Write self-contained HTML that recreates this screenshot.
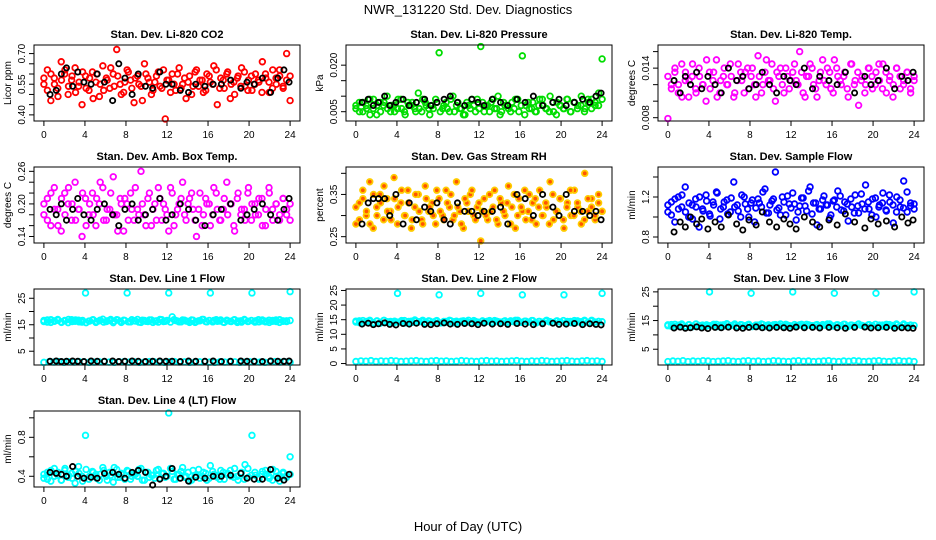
<!DOCTYPE html>
<html><head><meta charset="utf-8"><style>
html,body{margin:0;padding:0;background:#fff}
svg{display:block;font-family:"Liberation Sans",sans-serif}
</style></head><body>
<svg id="chart" width="936" height="540" viewBox="0 0 936 540">
<rect width="936" height="540" fill="#fff"/>
<text x="468" y="14" text-anchor="middle" font-size="13">NWR_131220  Std. Dev. Diagnostics</text>
<text x="468" y="531" text-anchor="middle" font-size="13">Hour of Day (UTC)</text>
</svg>
<script>
const xTicks = [0,4,8,12,16,20,24];
const blackHours = [0.6,1.2,1.7,2.2,2.8,3.3,3.9,4.6,5.2,5.9,6.7,7.3,7.9,8.6,9.2,9.9,10.6,11.3,11.9,12.5,13.3,14.1,14.8,15.7,16.5,17.3,18.2,19.2,19.8,20.5,21.3,22.1,22.8,23.4,23.9];

const co2Main = [0.55,0.62,0.47,0.58,0.53,0.66,0.60,0.50,0.57,0.63,0.54,0.45,0.59,0.52,0.61,0.56,0.49,0.64,0.58,0.53,0.60,0.72,0.55,0.51,0.62,0.57,0.46,0.59,0.54,0.65,0.58,0.50,0.56,0.61,0.53,0.38,0.57,0.60,0.52,0.63,0.55,0.48,0.59,0.54,0.62,0.57,0.51,0.60,0.56,0.64,0.45,0.58,0.53,0.61,0.55,0.50,0.59,0.63,0.54,0.57,0.52,0.60,0.56,0.66,0.58,0.51,0.62,0.55,0.59,0.53,0.70,0.47];
const co2Extra = [0.58,0.52,0.60,0.55,0.49,0.57,0.62,0.54,0.59,0.51,0.56,0.61,0.53,0.58,0.48,0.60,0.55,0.52,0.57,0.63,0.54,0.59,0.50,0.56,0.61,0.53,0.58,0.55,0.47,0.60,0.56,0.52,0.59,0.54,0.62,0.57,0.51,0.55,0.60,0.53,0.58,0.56,0.50,0.61,0.54,0.57,0.52,0.59,0.55,0.62,0.53,0.57,0.60,0.48,0.56,0.58,0.54,0.61,0.52,0.59,0.55,0.57,0.51,0.60,0.56,0.53,0.58,0.62,0.54,0.57,0.59];
const co2Black = [0.50,0.52,0.60,0.63,0.54,0.61,0.56,0.55,0.60,0.56,0.47,0.65,0.58,0.50,0.60,0.54,0.53,0.61,0.55,0.55,0.52,0.51,0.55,0.54,0.55,0.55,0.57,0.53,0.56,0.55,0.58,0.51,0.58,0.62,0.56];
const presMain = [.006,.008,.005,.007,.009,.006,.004,.008,.007,.010,.005,.007,.006,.009,.005,.008,.007,.006,.011,.005,.008,.006,.007,.009,.024,.006,.008,.005,.010,.007,.006,.004,.008,.006,.007,.009,.026,.005,.007,.008,.006,.010,.005,.007,.006,.008,.009,.005,.023,.007,.006,.008,.005,.009,.007,.006,.010,.005,.008,.007,.006,.009,.005,.008,.007,.010,.006,.008,.009,.007,.011,.022];
const presExtra = [.007,.005,.008,.006,.004,.009,.007,.005,.008,.006,.007,.005,.009,.006,.004,.007,.008,.005,.006,.009,.007,.004,.006,.008,.005,.007,.006,.009,.005,.008,.006,.004,.007,.009,.005,.006,.008,.007,.005,.009,.006,.004,.008,.007,.005,.006,.009,.007,.004,.008,.006,.005,.007,.009,.006,.005,.008,.004,.007,.006,.009,.005,.008,.006,.007,.005,.009,.006,.008,.007,.009];
const presBlack = [.008,.009,.007,.008,.010,.007,.008,.009,.007,.008,.009,.007,.008,.009,.010,.008,.007,.009,.008,.007,.009,.008,.007,.009,.008,.010,.007,.008,.009,.007,.008,.009,.008,.010,.011];
const tempMain = [.0079,.012,.0135,.011,.0145,.0125,.0105,.013,.0115,.014,.012,.0100,.0135,.0125,.015,.011,.013,.012,.0145,.0105,.0125,.0135,.011,.014,.0130,.012,.0155,.011,.0135,.0125,.0145,.010,.013,.012,.014,.0115,.0135,.0125,.016,.011,.013,.0145,.012,.0105,.0135,.0125,.014,.0115,.0150,.013,.012,.0135,.0105,.0145,.0125,.0095,.013,.012,.014,.0115,.0135,.0125,.0145,.011,.013,.012,.0140,.0115,.0125,.0135,.011,.013];
const tempExtra = [.0130,.0115,.0140,.0120,.0105,.0135,.0125,.0145,.0110,.0130,.0120,.0150,.0115,.0135,.0105,.0125,.0140,.0120,.0130,.0110,.0145,.0125,.0135,.0115,.0140,.0105,.0130,.0120,.0150,.0125,.0115,.0135,.0140,.0110,.0130,.0125,.0145,.0120,.0135,.0105,.0130,.0140,.0115,.0125,.0150,.0120,.0135,.0110,.0140,.0125,.0130,.0115,.0145,.0120,.0135,.0125,.0110,.0140,.0130,.0120,.0145,.0115,.0135,.0125,.0105,.0140,.0130,.0120,.0135,.0115,.0125];
const tempBlack = [.0125,.011,.013,.012,.0135,.0115,.013,.012,.011,.014,.0125,.013,.0115,.012,.0135,.012,.011,.013,.0125,.012,.014,.0115,.013,.0125,.012,.0135,.011,.013,.012,.0125,.014,.0115,.013,.0125,.0135];
const boxMain = [.18,.21,.16,.23,.19,.15,.22,.20,.17,.24,.19,.14,.21,.18,.22,.16,.20,.23,.17,.19,.25,.18,.21,.15,.20,.22,.17,.19,.26,.18,.21,.16,.20,.23,.17,.19,.15,.22,.18,.20,.24,.17,.21,.19,.14,.22,.18,.20,.16,.23,.19,.17,.21,.18,.20,.15,.22,.19,.17,.23,.20,.18,.21,.16,.19,.22,.17,.20,.18,.21,.19,.17];
const boxExtra = [.20,.17,.22,.19,.16,.21,.18,.23,.20,.17,.19,.22,.16,.20,.18,.21,.24,.17,.19,.22,.18,.15,.20,.21,.17,.19,.23,.18,.20,.16,.22,.19,.17,.21,.20,.18,.23,.16,.19,.21,.18,.20,.22,.17,.19,.16,.21,.20,.18,.22,.17,.19,.24,.20,.16,.21,.18,.19,.22,.17,.20,.18,.21,.16,.23,.19,.20,.17,.21,.18,.20];
const boxBlack = [.19,.18,.20,.17,.19,.21,.18,.17,.19,.20,.18,.16,.19,.20,.17,.18,.19,.21,.17,.18,.20,.19,.17,.16,.18,.19,.20,.17,.18,.19,.20,.18,.17,.19,.21];
const rhMain = [.28,.33,.36,.30,.38,.27,.32,.35,.29,.34,.31,.39,.28,.33,.30,.36,.27,.32,.35,.29,.37,.31,.33,.28,.34,.30,.36,.32,.29,.38,.31,.27,.33,.35,.30,.32,.24,.34,.29,.31,.36,.28,.33,.30,.37,.32,.27,.34,.31,.29,.35,.33,.28,.36,.30,.32,.38,.29,.31,.34,.27,.33,.30,.36,.32,.28,.40,.31,.34,.29,.33,.31];
const rhExtra = [.32,.29,.34,.31,.28,.35,.30,.33,.37,.31,.29,.34,.32,.36,.30,.33,.29,.35,.31,.28,.34,.32,.30,.36,.31,.29,.33,.35,.30,.32,.28,.34,.31,.36,.29,.33,.31,.30,.35,.32,.29,.34,.31,.33,.28,.35,.30,.32,.36,.31,.29,.34,.32,.30,.33,.28,.35,.31,.34,.29,.32,.36,.30,.33,.31,.29,.34,.32,.30,.35,.31];
const rhBlack = [.28,.33,.34,.34,.34,.30,.35,.28,.33,.29,.32,.31,.33,.29,.28,.33,.31,.31,.30,.31,.31,.32,.28,.35,.34,.30,.35,.32,.30,.35,.31,.31,.30,.31,.29];
const flowMain = [1.05,1.15,0.95,1.20,1.10,1.30,1.00,1.12,1.18,0.90,1.08,1.22,1.03,1.15,1.25,0.98,1.10,1.17,1.05,1.35,1.12,1.00,1.20,1.08,1.14,0.95,1.18,1.10,1.28,1.04,1.16,1.45,1.09,1.20,1.02,1.13,1.24,0.97,1.11,1.19,1.06,1.30,1.14,0.92,1.08,1.21,1.12,1.02,1.17,1.26,1.07,1.15,0.96,1.10,1.22,1.04,1.13,1.32,1.08,1.18,1.00,1.12,1.24,1.06,1.15,0.94,1.20,1.10,1.36,1.05,1.14,1.08];
const flowExtra = [1.12,1.02,1.18,1.08,1.22,1.05,1.14,0.98,1.10,1.20,1.06,1.16,1.01,1.12,1.24,1.08,1.15,1.03,1.19,1.10,1.06,1.22,1.13,1.00,1.17,1.09,1.14,1.25,1.04,1.12,1.18,1.07,1.02,1.15,1.21,1.09,1.13,1.05,1.19,1.11,1.26,1.03,1.14,1.08,1.17,1.12,0.99,1.16,1.10,1.21,1.06,1.13,1.18,1.04,1.11,1.23,1.08,1.15,1.02,1.19,1.10,1.14,1.07,1.22,1.12,1.05,1.17,1.09,1.25,1.11,1.13];
const flowBlack = [0.85,0.95,0.90,1.00,0.93,0.98,0.88,0.95,0.90,1.02,0.93,0.87,0.97,0.92,1.05,0.95,0.90,0.98,0.93,0.88,1.00,0.95,0.90,0.97,0.92,1.03,0.95,0.89,0.98,0.93,0.96,0.90,1.00,0.94,0.97];
const l1Main = [16.2,16.8,15.9,16.5,17.0,16.1,16.6,15.8,16.9,16.3,16.7,16.0,27,16.4,16.8,15.9,16.5,17.1,16.2,16.6,15.8,16.9,16.3,16.7,27,16.1,16.5,17.0,15.9,16.6,16.2,16.8,16.4,16.0,16.9,16.3,27,18,16.6,16.1,16.8,16.4,15.9,16.7,16.2,16.5,17.0,16.1,27,16.6,16.3,16.8,15.9,16.5,16.2,16.9,16.4,16.0,16.7,16.3,27,16.5,16.1,16.8,16.4,15.9,16.6,16.2,16.9,16.3,16.5,27.5];
const l1Extra = [16.6,16.0,16.9,16.3,16.7,15.9,16.5,17.0,16.2,16.8,16.1,16.6,15.8,16.4,16.9,16.2,16.7,16.0,16.5,17.0,16.3,16.8,15.9,16.6,16.1,16.9,16.4,16.0,16.7,16.3,16.8,15.9,16.5,17.0,16.2,16.6,16.0,16.9,16.4,16.1,16.7,16.3,16.8,15.9,16.5,17.0,16.2,16.6,16.1,16.9,16.4,16.0,16.7,16.3,16.8,15.9,16.5,17.0,16.2,16.6,16.0,16.9,16.4,16.1,16.7,16.3,16.8,15.9,16.5,16.2,16.6];
const l1Low = [0.8,1.0,0.9,1.1,0.8,1.0,0.9,1.1,1.0,0.8,0.9,1.0,1.1,0.9,0.8,1.0,1.1,0.9,1.0,0.8,0.9,1.1,1.0,0.9,0.8,1.0,1.1,0.9,1.0,0.8,0.9,1.0,1.1,0.9,0.8,1.0,0.9,1.1,1.0,0.8,0.9,1.0,1.1,0.9,0.8,1.0,1.1,0.9,1.0,0.8];
const l1Black = [1.2,1.3,1.1,1.2,1.3,1.2,1.1,1.3,1.2,1.2,1.3,1.1,1.2,1.3,1.2,1.1,1.2,1.3,1.2,1.2,1.1,1.3,1.2,1.2,1.3,1.1,1.2,1.3,1.2,1.2,1.1,1.3,1.2,1.2,1.3];
const l2Main = [14.2,14.6,13.9,14.4,14.8,14.0,14.5,13.8,14.7,14.1,14.4,14.0,24,14.3,14.7,13.9,14.5,14.9,14.2,14.4,13.8,14.6,14.1,14.5,23.5,14.0,14.4,14.8,13.9,14.5,14.2,14.6,14.3,14.0,14.7,14.2,24,14.1,14.5,14.0,14.7,14.3,13.9,14.6,14.2,14.4,14.8,14.1,23.5,14.5,14.2,14.7,13.9,14.4,14.1,14.8,14.3,14.0,14.6,14.2,23.5,14.4,14.0,14.7,14.3,13.9,14.5,14.1,14.8,14.2,14.4,24];
const l2Extra = [14.5,14.0,14.7,14.2,14.4,13.9,14.6,14.1,14.8,14.3,14.0,14.5,14.2,14.7,13.9,14.4,14.1,14.6,14.3,14.8,14.0,14.5,14.2,14.7,13.9,14.4,14.1,14.6,14.3,14.0,14.5,14.2,14.8,14.0,14.4,14.1,14.6,14.3,14.7,13.9,14.5,14.2,14.4,14.0,14.6,14.3,14.8,14.1,14.5,14.2,14.7,13.9,14.4,14.1,14.6,14.3,14.0,14.5,14.2,14.7,14.0,14.4,14.1,14.6,14.3,14.8,14.0,14.5,14.2,14.4,14.3];
const l2Low = [0.7,0.9,0.8,1.0,0.7,0.9,0.8,1.0,0.9,0.7,0.8,0.9,1.0,0.8,0.7,0.9,1.0,0.8,0.9,0.7,0.8,1.0,0.9,0.8,0.7,0.9,1.0,0.8,0.9,0.7,0.8,0.9,1.0,0.8,0.7,0.9,0.8,1.0,0.9,0.7,0.8,0.9,1.0,0.8,0.7,0.9,1.0,0.8,0.9,0.7];
const l2Black = [13.5,13.8,13.3,13.6,13.9,13.4,13.2,13.7,13.5,13.8,13.4,13.3,13.6,13.9,13.5,13.4,13.7,13.6,13.3,13.8,13.5,13.6,13.4,13.7,13.5,13.3,13.6,13.8,13.4,13.5,13.7,13.3,13.6,13.4,13.2];
const l3Main = [13.2,13.6,12.9,13.4,13.8,13.0,13.5,12.8,13.7,13.1,13.4,13.0,25,13.3,13.7,12.9,13.5,13.9,13.2,13.4,12.8,13.6,13.1,13.5,24.5,13.0,13.4,13.8,12.9,13.5,13.2,13.6,13.3,13.0,13.7,13.2,25,13.1,13.5,13.0,13.7,13.3,12.9,13.6,13.2,13.4,13.8,13.1,24.5,13.5,13.2,13.7,12.9,13.4,13.1,13.8,13.3,13.0,13.6,13.2,24.5,13.4,13.0,13.7,13.3,12.9,13.5,13.1,13.8,13.2,13.4,25];
const l3Extra = [13.5,13.0,13.7,13.2,13.4,12.9,13.6,13.1,13.8,13.3,13.0,13.5,13.2,13.7,12.9,13.4,13.1,13.6,13.3,13.8,13.0,13.5,13.2,13.7,12.9,13.4,13.1,13.6,13.3,13.0,13.5,13.2,13.8,13.0,13.4,13.1,13.6,13.3,13.7,12.9,13.5,13.2,13.4,13.0,13.6,13.3,13.8,13.1,13.5,13.2,13.7,12.9,13.4,13.1,13.6,13.3,13.0,13.5,13.2,13.7,13.0,13.4,13.1,13.6,13.3,13.8,13.0,13.5,13.2,13.4,13.3];
const l3Low = [0.7,0.9,0.8,1.0,0.7,0.9,0.8,1.0,0.9,0.7,0.8,0.9,1.0,0.8,0.7,0.9,1.0,0.8,0.9,0.7,0.8,1.0,0.9,0.8,0.7,0.9,1.0,0.8,0.9,0.7,0.8,0.9,1.0,0.8,0.7,0.9,0.8,1.0,0.9,0.7,0.8,0.9,1.0,0.8,0.7,0.9,1.0,0.8,0.9,0.7];
const l3Black = [12.4,12.7,12.3,12.5,12.8,12.4,12.2,12.6,12.5,12.7,12.4,12.3,12.6,12.8,12.5,12.4,12.6,12.5,12.3,12.7,12.5,12.6,12.4,12.6,12.5,12.3,12.6,12.7,12.4,12.5,12.6,12.3,12.5,12.4,12.3];
const l4Main = [0.38,0.44,0.35,0.48,0.41,0.36,0.46,0.39,0.43,0.33,0.50,0.40,0.82,0.37,0.45,0.42,0.36,0.49,0.40,0.44,0.34,0.47,0.39,0.42,0.46,0.37,0.43,0.40,0.48,0.36,0.44,0.41,0.38,0.47,0.43,0.39,1.05,0.45,0.37,0.42,0.49,0.40,0.35,0.46,0.41,0.38,0.44,0.36,0.51,0.42,0.39,0.46,0.37,0.43,0.40,0.48,0.36,0.44,0.52,0.39,0.82,0.41,0.37,0.45,0.42,0.38,0.47,0.40,0.35,0.44,0.41,0.60];
const l4Extra = [0.42,0.37,0.46,0.40,0.44,0.36,0.48,0.41,0.38,0.45,0.43,0.35,0.47,0.40,0.44,0.38,0.42,0.46,0.36,0.41,0.49,0.39,0.43,0.37,0.45,0.40,0.42,0.47,0.36,0.44,0.39,0.41,0.46,0.38,0.43,0.40,0.48,0.37,0.42,0.45,0.39,0.44,0.36,0.41,0.47,0.40,0.43,0.38,0.45,0.41,0.37,0.44,0.42,0.46,0.39,0.40,0.43,0.37,0.48,0.41,0.44,0.38,0.42,0.46,0.40,0.36,0.45,0.41,0.43,0.39,0.42];
const l4Black = [0.44,0.43,0.42,0.40,0.50,0.40,0.38,0.39,0.38,0.43,0.44,0.42,0.38,0.44,0.46,0.44,0.31,0.37,0.40,0.48,0.38,0.35,0.39,0.38,0.40,0.40,0.41,0.43,0.38,0.37,0.37,0.47,0.38,0.36,0.42];

const NS = "http://www.w3.org/2000/svg";
const svg = document.getElementById('chart');
function mk(tag, attrs, parent){ const e=document.createElementNS(NS,tag); for(const k in attrs) e.setAttribute(k,attrs[k]); (parent||svg).appendChild(e); return e; }

const colLeft = [34, 346, 658];
const rowTop = [45, 167, 289, 411];
const W = 266, H = 76;

const panels = [
 {title:"Stan. Dev. Li-820 CO2", ylab:"Licor ppm", r:0,c:0, ymin:0.37, ymax:0.742, ticks:[0.40,0.45,0.50,0.55,0.60,0.65,0.70], labels:["0.40","","","0.55","","","0.70"], series:[[co2Main,"#ff0000",null],[co2Extra,"#ff0000",null]], black:co2Black},
 {title:"Stan. Dev. Li-820 Pressure", ylab:"kPa", r:0,c:1, ymin:0.002, ymax:0.0265, ticks:[0.005,0.010,0.015,0.020], labels:["0.005","","","0.020"], series:[[presMain,"#00dd00",null],[presExtra,"#00dd00",null]], black:presBlack},
 {title:"Stan. Dev. Li-820 Temp.", ylab:"degrees C", r:0,c:2, ymin:0.0076, ymax:0.0168, ticks:[0.008,0.010,0.012,0.014,0.016], labels:["0.008","","","0.014",""], series:[[tempMain,"#ff00ff",null],[tempExtra,"#ff00ff",null]], black:tempBlack},
 {title:"Stan. Dev. Amb. Box Temp.", ylab:"degrees C", r:1,c:0, ymin:0.128, ymax:0.268, ticks:[0.14,0.16,0.18,0.20,0.22,0.24,0.26], labels:["0.14","","","0.20","","","0.26"], series:[[boxMain,"#ff00ff",null],[boxExtra,"#ff00ff",null]], black:boxBlack},
 {title:"Stan. Dev. Gas Stream RH", ylab:"percent", r:1,c:1, ymin:0.235, ymax:0.415, ticks:[0.25,0.30,0.35,0.40], labels:["0.25","","0.35",""], series:[[rhMain,"#ffcc00","#ff5500"],[rhExtra,"#ffcc00","#ff5500"]], black:rhBlack},
 {title:"Stan. Dev. Sample Flow", ylab:"ml/min", r:1,c:2, ymin:0.74, ymax:1.50, ticks:[0.8,1.0,1.2,1.4], labels:["0.8","","1.2",""], series:[[flowMain,"#0000ff",null],[flowExtra,"#0000ff",null]], black:flowBlack},
 {title:"Stan. Dev. Line 1 Flow", ylab:"ml/min", r:2,c:0, ymin:-0.2, ymax:28.5, ticks:[5,10,15,20,25], labels:["5","","15","","25"], series:[[l1Main,"#00ffff",null],[l1Extra,"#00ffff",null],[l1Low,"#00ffff",null]], black:l1Black},
 {title:"Stan. Dev. Line 2 Flow", ylab:"ml/min", r:2,c:1, ymin:-0.5, ymax:25.5, ticks:[0,5,10,15,20,25], labels:["0","5","10","15","20","25"], series:[[l2Main,"#00ffff",null],[l2Extra,"#00ffff",null],[l2Low,"#00ffff",null]], black:l2Black},
 {title:"Stan. Dev. Line 3 Flow", ylab:"ml/min", r:2,c:2, ymin:-0.5, ymax:26, ticks:[5,10,15,20,25], labels:["5","","15","","25"], series:[[l3Main,"#00ffff",null],[l3Extra,"#00ffff",null],[l3Low,"#00ffff",null]], black:l3Black},
 {title:"Stan. Dev. Line 4 (LT) Flow", ylab:"ml/min", r:3,c:0, ymin:0.29, ymax:1.07, ticks:[0.4,0.6,0.8,1.0], labels:["0.4","","0.8",""], series:[[l4Main,"#00ffff",null],[l4Extra,"#00ffff",null]], black:l4Black}
];

panels.forEach(function(p, pi){
  const L = colLeft[p.c], T = rowTop[p.r];
  const g = mk('g', {});
  
  
  const xs = function(h){ return L + 9.9 + h * (W - 19.8) / 24; };
  const ys = function(v){ return T + H - (v - p.ymin) / (p.ymax - p.ymin) * H; };
  const t = mk('text', {x: L + W/2, y: T - 7, 'text-anchor':'middle', 'font-size':11, 'font-weight':'bold'}, g);
  t.textContent = p.title;
  
  
  xTicks.forEach(function(h){
    const x = xs(h);
    mk('line', {x1:x, x2:x, y1:T+H, y2:T+H+5, stroke:'#000', 'stroke-width':1}, g);
    const tl = mk('text', {x:x, y:T+H+17, 'text-anchor':'middle', 'font-size':10}, g);
    tl.textContent = h;
    
    
  });
  p.ticks.forEach(function(v, i){
    const y = ys(v);
    mk('line', {x1:L-5, x2:L, y1:y, y2:y, stroke:'#000', 'stroke-width':1}, g);
    if (p.labels[i]) {
      const tl = mk('text', {x:L-9, y:y, 'text-anchor':'middle', 'font-size':10, transform:'rotate(-90 '+(L-9)+' '+y+')'}, g);
      tl.textContent = p.labels[i];
      
      
    }
  });
  const yl = mk('text', {x:L-23, y:T+H/2, 'text-anchor':'middle', 'font-size':10, transform:'rotate(-90 '+(L-23)+' '+(T+H/2)+')'}, g);
  yl.textContent = p.ylab;
  
  
  p.series.forEach(function(s){
    const arr = s[0], n = arr.length;
    arr.forEach(function(v, i){
      const c = mk('circle', {cx: xs(i * 24 / (n - 1)), cy: ys(v), r: 2.8, fill: s[2] || 'none', stroke: s[1], 'stroke-width': 1.8}, g);
      
      
    });
  });
  const nb = Math.min(blackHours.length, p.black.length);
  for (let i = 0; i < nb; i++) {
    const c = mk('circle', {cx: xs(blackHours[i]), cy: ys(p.black[i]), r: 2.6, fill: 'none', stroke: '#000', 'stroke-width': 1.8}, g);
    
    
  }
  const box = mk('rect', {x:L, y:T, width:W, height:H, fill:'none', stroke:'#000', 'stroke-width':1}, g);
  
  
});
</script>
</body></html>
